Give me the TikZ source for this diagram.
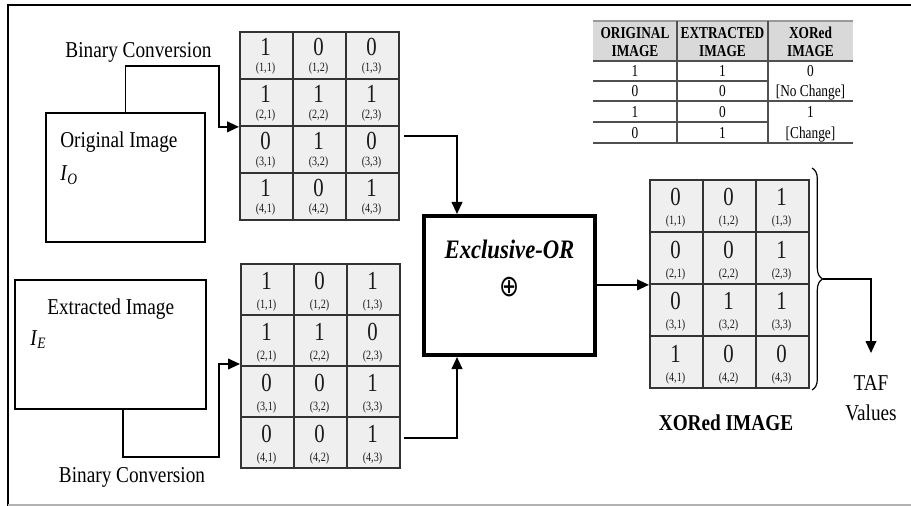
\documentclass[tikz,border=0pt]{standalone}
\usepackage{graphicx}
\usepackage{fontspec}
\setmainfont{Liberation Serif}
\newfontfamily\symbfont{DejaVu Sans}
\usetikzlibrary{arrows.meta,decorations.pathreplacing,calc}
\definecolor{gridline}{HTML}{333333}
\definecolor{cellfill}{HTML}{EFEFEF}
\definecolor{headfill}{HTML}{D9D9D9}
\definecolor{tabline}{HTML}{505050}
\definecolor{txtgray}{HTML}{1A1A1A}
\newcommand\sq[1]{\scalebox{0.85}[1]{#1}}
\newcommand\sqd[1]{\scalebox{0.8}[1]{#1}}
\tikzset{
  cellbox/.style={draw=gridline, line width=1.4pt, fill=cellfill, inner sep=0pt, minimum width={53*0.75pt}},
  digit/.style={inner sep=0pt, text=txtgray, font=\fontsize{19.5}{19.5}\selectfont},
  idx/.style={inner sep=0pt, text=txtgray, font=\fontsize{9.5}{9.5}\selectfont},
  mainlbl/.style={inner sep=0pt, font=\fontsize{17}{20}\selectfont},
  imgbox/.style={draw, line width=1.1pt, inner sep=0pt},
  conn/.style={line width=1.4pt},
  arr/.style={conn, -{Triangle[length=9pt,width=8pt]}},
  tabtxt/.style={inner sep=0pt, font=\fontsize{12.5}{15}\selectfont, align=center},
  tabhead/.style={tabtxt, font=\fontsize{12.5}{13}\selectfont\bfseries},
  tabrule/.style={draw=tabline, line width=1.1pt},
}
\newcommand\bingrid[5]{%
  \foreach \vv [count=\ii from 0] in {#5}{%
    \pgfmathtruncatemacro\rr{div(\ii,3)+1}%
    \pgfmathtruncatemacro\cc{mod(\ii,3)+1}%
    \node[cellbox, minimum height={#4*0.75pt}, anchor=north west] (#1-\rr-\cc) at ({#2+(\cc-1)*53},{#3+(\rr-1)*#4}) {};
    \node[digit, anchor=base] (#1-\rr-\cc-d) at ({#2+(\cc-0.5)*53},{#3+(\rr-1)*#4+0.5*#4+1}) {\sqd{\vv}};
    \node[idx, anchor=base] (#1-\rr-\cc-i) at ({#2+(\cc-0.5)*53},{#3+\rr*#4-6}) {\sqd{(\rr,\cc)}};
  }}
\begin{document}
\begin{tikzpicture}[x=0.75pt, y=-0.75pt]
\useasboundingbox (0,0) rectangle (911,506);
% outer frame
\draw[line width=2.2pt] (8,506) -- (8,5) -- (911,5);
\draw[gray!60, line width=0.8pt] (8,505) -- (911,505);

% image boxes
\node[imgbox, minimum width={159*0.75pt}, minimum height={129*0.75pt}] (orig) at (125.5,177.5) {};
\node[imgbox, minimum width={191*0.75pt}, minimum height={129*0.75pt}] (ext) at (110.5,344.5) {};
\node[mainlbl, anchor=base west] (origlbl) at (60,148) {\sq{Original Image}};
\node[mainlbl, anchor=base west] (io) at (60,181) {\sq{\textit{I}\textsubscript{\textit{O}}}};
\node[mainlbl, anchor=base west] (extlbl) at (47,315) {\sq{Extracted Image}};
\node[mainlbl, anchor=base west] (ie) at (30,345) {\sq{\textit{I}\textsubscript{\textit{E}}}};
\node[mainlbl, anchor=base] (bc1lbl) at (138.5,58) {\sq{Binary Conversion}};
\node[mainlbl, anchor=base] (bc2lbl) at (132,482) {\sq{Binary Conversion}};

% grids
\bingrid{g1}{239}{31}{47}{1,0,0,1,1,1,0,1,0,1,0,1}
\bingrid{g2}{240}{263}{51}{1,0,1,1,1,0,0,0,1,0,0,1}
\bingrid{g3}{649}{179}{52}{0,0,1,0,0,1,0,1,1,1,0,0}

% XOR box
\node[draw, line width=3pt, minimum width={171*0.75pt}, minimum height={139*0.75pt}, inner sep=0pt] (xor) at (509.5,285.5) {};
\node[inner sep=0pt, anchor=base, font=\fontsize{20}{22}\selectfont\bfseries\itshape] (xorlbl) at (509.5,258) {\sq{Exclusive-OR}};
\node[inner sep=0pt, font=\fontsize{18}{18}\selectfont] (oplus) at (510,287) {\scalebox{1}[1.25]{\symbfont ⊕}};

% connectors
\coordinate (b1) at (219,66);
\draw[arr] (orig.north) |- (b1) |- (g1-2-1.south west);
\coordinate (b2) at (123,457);
\coordinate (b3) at (219,364);
\draw[arr] (ext.south -| b2) -- (b2) -| (b3) -- (b3 -| g2-2-1.south west);
\coordinate (t1) at (404,136);
\coordinate (t2) at (457,136);
\draw[arr] (t1) -- (t2) -- (t2 |- xor.north);
\coordinate (u1) at (404,438);
\coordinate (u2) at (457,438);
\draw[arr] (u1) -- (u2) -- (u2 |- xor.south);
\draw[arr] (xor.east |- g3-2-1.south west) -- (g3-2-1.south west);

% brace and TAF
\draw[line width=0.9pt, decorate, decoration={brace, amplitude=8pt}] (812,168) -- (812,390);
\coordinate (bt) at (823,279);
\coordinate (tafarr) at (871,353);
\draw[arr] (bt) -| (tafarr);
\node[mainlbl, anchor=base] (taf) at (871,390) {\sq{TAF}};
\node[mainlbl, anchor=base] (vals) at (871,420) {\sq{Values}};
\node[mainlbl, anchor=base, font=\fontsize{17}{20}\selectfont\bfseries] (xorimg) at (726,430) {\sq{XORed IMAGE}};

% truth table
\fill[headfill] (593,21) rectangle (853,61);
\draw[tabrule, draw=gray!80, line width=1.5pt] (593,21) -- (853,21);
\draw[tabrule, line width=1.5pt] (593,61) -- (853,61);
\draw[tabrule] (593,81) -- (768,81);
\draw[tabrule, line width=1.3pt] (593,101) -- (853,101);
\draw[tabrule] (593,122) -- (768,122);
\draw[tabrule, line width=1.5pt] (593,143) -- (853,143);
\draw[tabrule] (677,21) -- (677,143);
\draw[tabrule] (768,21) -- (768,143);
\node[tabhead, anchor=base] (h1a) at (635,39) {\sqd{ORIGINAL}};
\node[tabhead, anchor=base] (h1b) at (635,57) {\sqd{IMAGE}};
\node[tabhead, anchor=base] (h2a) at (722.5,39) {\sqd{EXTRACTED}};
\node[tabhead, anchor=base] (h2b) at (722.5,57) {\sqd{IMAGE}};
\node[tabhead, anchor=base] (h3a) at (810.5,39) {\sqd{XORed}};
\node[tabhead, anchor=base] (h3b) at (810.5,57) {\sqd{IMAGE}};
\node[tabtxt, anchor=base] (r11) at (635,77) {\sqd{1}};
\node[tabtxt, anchor=base] (r12) at (722.5,77) {\sqd{1}};
\node[tabtxt, anchor=base] (r21) at (635,97) {\sqd{0}};
\node[tabtxt, anchor=base] (r22) at (722.5,97) {\sqd{0}};
\node[tabtxt, anchor=base] (r31) at (635,118) {\sqd{1}};
\node[tabtxt, anchor=base] (r32) at (722.5,118) {\sqd{0}};
\node[tabtxt, anchor=base] (r41) at (635,138.5) {\sqd{0}};
\node[tabtxt, anchor=base] (r42) at (722.5,138.5) {\sqd{1}};
\node[tabtxt, anchor=base] (x1) at (810.5,77) {\sqd{0}};
\node[tabtxt, anchor=base] (x2) at (810.5,97) {\sqd{[No Change]}};
\node[tabtxt, anchor=base] (x3) at (810.5,118) {\sqd{1}};
\node[tabtxt, anchor=base] (x4) at (810.5,138.5) {\sqd{[Change]}};
\end{tikzpicture}
\end{document}
